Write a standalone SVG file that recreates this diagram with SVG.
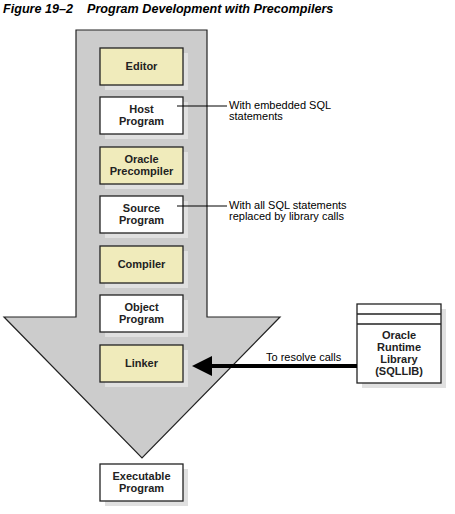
<svg xmlns="http://www.w3.org/2000/svg" width="455" height="514" viewBox="0 0 455 514">
<style>
  .title{font-family:"Liberation Sans",Arial,sans-serif;font-weight:bold;font-style:italic;font-size:12.6px;fill:#000}
  .lbl{font-family:"Liberation Sans",Arial,sans-serif;font-weight:bold;font-size:11px;fill:#222;text-anchor:middle}
  .note{font-family:"Liberation Sans",Arial,sans-serif;font-size:11px;fill:#000}
  .box{stroke:#222;stroke-width:1.3}
  .y{fill:#f0ebbb}
  .w{fill:#fff}
  .sh{fill:#e0e0e0}
  .lead{stroke:#000;stroke-width:1;fill:none}
</style>
<text class="title" x="3" y="13">Figure 19–2</text>
<text class="title" x="87" y="13">Program Development with Precompilers</text>

<g id="flow-arrow">
  <polygon points="76,30 207,30 207,317 280,317 142,458 4,317 76,317" fill="#cccccc" stroke="#222" stroke-width="1.2"/>
</g>

<g id="editor">
  <rect class="sh" x="105" y="53" width="83" height="37"/>
  <rect class="box y" x="100" y="48" width="83" height="37"/>
  <text class="lbl" x="141.5" y="70">Editor</text>
</g>
<g id="host-program">
  <rect class="sh" x="105" y="102" width="83" height="37"/>
  <rect class="box w" x="100" y="97" width="83" height="37"/>
  <text class="lbl" x="141.5" y="113">Host</text>
  <text class="lbl" x="141.5" y="125">Program</text>
</g>
<g id="oracle-precompiler">
  <rect class="sh" x="105" y="152" width="83" height="37"/>
  <rect class="box y" x="100" y="147" width="83" height="37"/>
  <text class="lbl" x="141.5" y="163">Oracle</text>
  <text class="lbl" x="141.5" y="175">Precompiler</text>
</g>
<g id="source-program">
  <rect class="sh" x="105" y="201" width="83" height="37"/>
  <rect class="box w" x="100" y="196" width="83" height="37"/>
  <text class="lbl" x="141.5" y="212">Source</text>
  <text class="lbl" x="141.5" y="224">Program</text>
</g>
<g id="compiler">
  <rect class="sh" x="105" y="251" width="83" height="37"/>
  <rect class="box y" x="100" y="246" width="83" height="37"/>
  <text class="lbl" x="141.5" y="268">Compiler</text>
</g>
<g id="object-program">
  <rect class="sh" x="105" y="300" width="83" height="37"/>
  <rect class="box w" x="100" y="295" width="83" height="37"/>
  <text class="lbl" x="141.5" y="311">Object</text>
  <text class="lbl" x="141.5" y="323">Program</text>
</g>
<g id="linker">
  <rect class="sh" x="105" y="350" width="83" height="37"/>
  <rect class="box y" x="100" y="345" width="83" height="37"/>
  <text class="lbl" x="141.5" y="367">Linker</text>
</g>
<g id="executable-program">
  <rect class="sh" x="105" y="469" width="83" height="37"/>
  <rect class="box w" x="100" y="464" width="83" height="37"/>
  <text class="lbl" x="141.5" y="480">Executable</text>
  <text class="lbl" x="141.5" y="492">Program</text>
</g>
<g id="runtime-library">
  <rect class="sh" x="362" y="309" width="84" height="79"/>
  <rect class="box w" x="357" y="304" width="84" height="79"/>
  <line x1="357" y1="314" x2="441" y2="314" stroke="#222" stroke-width="1.3"/>
  <line x1="357" y1="324" x2="441" y2="324" stroke="#222" stroke-width="1.3"/>
  <text class="lbl" x="399" y="339">Oracle</text>
  <text class="lbl" x="399" y="351">Runtime</text>
  <text class="lbl" x="399" y="363">Library</text>
  <text class="lbl" x="399" y="375">(SQLLIB)</text>
</g>

<g id="connectors">
  <line class="lead" x1="177" y1="106" x2="227" y2="106"/>
  <line class="lead" x1="177" y1="206" x2="227" y2="206"/>
  <line x1="357" y1="366" x2="210" y2="366" stroke="#000" stroke-width="4"/>
  <polygon points="192,366 212,356 212,376" fill="#000"/>
</g>

<g id="notes">
  <text class="note" x="229" y="109">With embedded SQL</text>
  <text class="note" x="229" y="120">statements</text>
  <text class="note" x="229" y="209">With all SQL statements</text>
  <text class="note" x="229" y="220">replaced by library calls</text>
  <text class="note" x="266" y="361">To resolve calls</text>
</g>
</svg>
